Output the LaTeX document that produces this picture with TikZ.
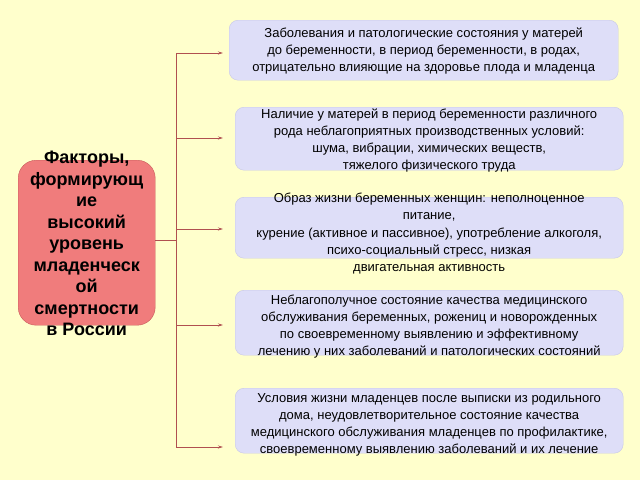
\documentclass[tikz,border=0pt]{standalone}
\usepackage{fontspec}
\setmainfont{Liberation Sans}
\usetikzlibrary{arrows.meta}
\definecolor{bgyellow}{RGB}{255,255,204}
\definecolor{factorred}{RGB}{240,124,124}
\definecolor{factorline}{RGB}{200,90,90}
\definecolor{itemfill}{RGB}{222,222,248}
\definecolor{itemline}{RGB}{200,200,232}
\definecolor{trunk}{RGB}{176,80,80}
\tikzset{
  factorbox/.style={draw=factorline, fill=factorred, rounded corners=18pt, anchor=north west},
  itembox/.style={draw=itemline, fill=itemfill, rounded corners=9pt, anchor=north west, minimum width=#1},
  itemtext/.style={align=center, font=\fontsize{13}{17.2}\selectfont, inner sep=0pt},
  branch/.style={draw=trunk, line width=0.9pt, -{Stealth[length=5pt,width=3pt]}}
}
\begin{document}
\begin{tikzpicture}[x=1pt,y=-1pt]
		%%%%% BACKGROUND %%%%%
		\fill[bgyellow] (0,0) rectangle (640,480);
		\useasboundingbox (0,0) rectangle (640,480);
		
		%%%%% LEFT BOX %%%%%
		\node[factorbox, minimum width=137pt, minimum height=165pt] (factors) at (18,160) {};
		\node[align=center, font=\fontsize{18}{21.5}\selectfont\bfseries, inner sep=0pt] (factorstext) at ([yshift=-1pt]factors.center)
		  {Факторы,\\формирующ\\ие\\высокий\\уровень\\младенческ\\ой\\смертности\\в России};
		
		%%%%% RIGHT BOXES %%%%%
		\node[itembox=389pt, minimum height=60pt] (b1) at (229,20) {};
		\node[itembox=388pt, minimum height=63pt] (b2) at (235,107) {};
		\node[itembox=388pt, minimum height=61pt] (b3) at (235,197) {};
		\node[itembox=388pt, minimum height=65pt] (b4) at (235,290) {};
		\node[itembox=388pt, minimum height=65pt] (b5) at (235,388) {};
		
		\node[itemtext] (t1) at ([yshift=-1pt]b1.center)
		  {Заболевания и патологические состояния у матерей\\до беременности, в период беременности, в родах,\\отрицательно влияющие на здоровье плода и младенца};
		\node[itemtext] (t2) at ([yshift=-2pt]b2.center)
		  {Наличие у матерей в период беременности различного\\рода неблагоприятных производственных условий:\\шума, вибрации, химических веществ,\\тяжелого физического труда};
		\node[itemtext] (t3) at ([yshift=-6pt]b3.center)
		  {Образ жизни беременных женщин: неполноценное\\питание,\\курение (активное и пассивное), употребление алкоголя,\\психо-социальный стресс, низкая\\двигательная активность};
		\node[itemtext] (t4) at ([yshift=-4pt]b4.center)
		  {Неблагополучное состояние качества медицинского\\обслуживания беременных, рожениц и новорожденных\\по своевременному выявлению и эффективному\\лечению у них заболеваний и патологических состояний};
		\node[itemtext] (t5) at ([yshift=-4pt]b5.center)
		  {Условия жизни младенцев после выписки из родильного\\дома,  неудовлетворительное состояние качества\\медицинского обслуживания младенцев по профилактике,\\своевременному выявлению заболеваний и их лечение};
		
		%%%%% CONNECTORS %%%%%
		\coordinate (hub) at (176,240);
		\coordinate (a1) at (223,53);
		\coordinate (a2) at (223,138);
		\coordinate (a3) at (223,229);
		\coordinate (a4) at (223,325);
		\coordinate (a5) at (223,447);
		\draw[trunk, line width=0.9pt] (factors.east |- hub) -- (hub);
		\draw[trunk, line width=0.9pt] (hub |- a1) -- (hub |- a5);
		\foreach \i in {1,...,5}
		  \draw[branch] (hub |- a\i) -- (a\i);
	\end{tikzpicture}
\end{document}
